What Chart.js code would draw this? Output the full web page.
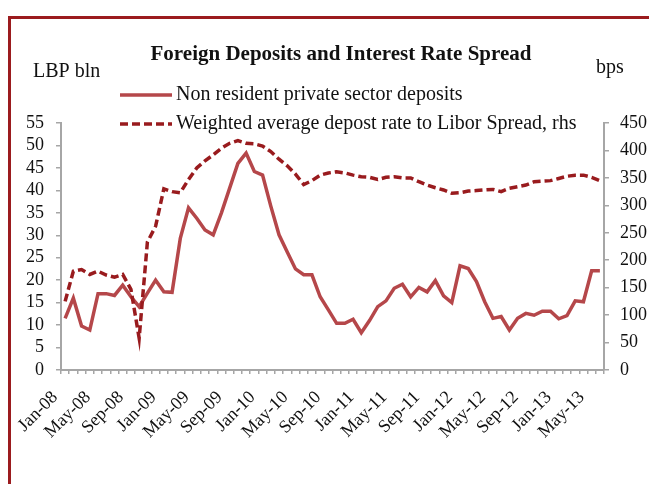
<!DOCTYPE html>
<html>
<head>
<meta charset="utf-8">
<script src="https://cdn.jsdelivr.net/npm/chart.js@4"></script>
<style>
  html, body { margin: 0; padding: 0; background: #fff; }
  canvas { display: block; }
</style>
</head>
<body>
<canvas id="depositsChart" width="649" height="484"></canvas>
<script>
// Monthly observations, Jan-08 to Jun-13
const months = [
    'Jan-08', 'Feb-08', 'Mar-08', 'Apr-08', 'May-08', 'Jun-08', 'Jul-08', 'Aug-08', 'Sep-08', 'Oct-08', 'Nov-08', 'Dec-08',
    'Jan-09', 'Feb-09', 'Mar-09', 'Apr-09', 'May-09', 'Jun-09', 'Jul-09', 'Aug-09', 'Sep-09', 'Oct-09', 'Nov-09', 'Dec-09',
    'Jan-10', 'Feb-10', 'Mar-10', 'Apr-10', 'May-10', 'Jun-10', 'Jul-10', 'Aug-10', 'Sep-10', 'Oct-10', 'Nov-10', 'Dec-10',
    'Jan-11', 'Feb-11', 'Mar-11', 'Apr-11', 'May-11', 'Jun-11', 'Jul-11', 'Aug-11', 'Sep-11', 'Oct-11', 'Nov-11', 'Dec-11',
    'Jan-12', 'Feb-12', 'Mar-12', 'Apr-12', 'May-12', 'Jun-12', 'Jul-12', 'Aug-12', 'Sep-12', 'Oct-12', 'Nov-12', 'Dec-12',
    'Jan-13', 'Feb-13', 'Mar-13', 'Apr-13', 'May-13', 'Jun-13'
];

// Non resident private sector deposits, LBP bln
const deposits = [
    11.5, 16.0, 9.8, 8.9, 17.0, 17.0, 16.6, 18.9, 16.3, 14.1, 17.1, 20.0,
    17.4, 17.3, 29.3, 36.1, 33.8, 31.2, 30.1, 35.0, 40.5, 46.0, 48.3, 44.2,
    43.4, 36.5, 30.1, 26.3, 22.5, 21.2, 21.2, 16.3, 13.4, 10.4, 10.4, 11.3,
    8.3, 11.0, 14.1, 15.4, 18.2, 19.1, 16.3, 18.4, 17.4, 19.9, 16.5, 15.0,
    23.2, 22.6, 19.7, 15.2, 11.5, 11.9, 8.9, 11.5, 12.6, 12.2, 13.1, 13.1,
    11.4, 12.1, 15.4, 15.2, 22.1, 22.1
];

// Weighted average deposit rate to Libor spread, bps
const spread = [
    125, 180, 183, 174, 180, 173, 169, 174, 147, 58, 233, 262,
    330, 325, 323, 347, 368, 381, 392, 404, 413, 418, 413, 412,
    408, 398, 384, 372, 357, 338, 345, 355, 359, 361, 359, 355,
    352, 351, 347, 351, 352, 350, 350, 343, 337, 332, 328, 322,
    323, 326, 327, 328, 329, 325, 331, 334, 337, 343, 344, 345,
    349, 353, 355, 355, 351, 345
];

const leftTicks = { min: 0, max: 55, step: 5 };
const rightTicks = { min: 0, max: 450, step: 50 };

const serif = "'Liberation Serif', 'DejaVu Serif', serif";
const axisGrey = '#a6a6a6';
const frameRed = '#9b1b1e';

// frame, heading, units and the two legend rows
const decorations = {
    id: 'decorations',
    beforeDraw(chart) {
        const ctx = chart.ctx;
        ctx.save();
        ctx.fillStyle = '#fff';
        ctx.fillRect(0, 0, chart.width, chart.height);
        ctx.strokeStyle = frameRed;
        ctx.lineWidth = 3;
        ctx.beginPath();
        ctx.moveTo(9.5, chart.height);
        ctx.lineTo(9.5, 17.5);
        ctx.lineTo(chart.width, 17.5);
        ctx.stroke();
        ctx.restore();
    },
    afterDraw(chart) {
        const ctx = chart.ctx;
        ctx.save();
        ctx.fillStyle = '#111';
        ctx.textBaseline = 'middle';

        ctx.font = 'bold 21px ' + serif;
        ctx.textAlign = 'center';
        ctx.fillText('Foreign Deposits and Interest Rate Spread', 341, 55);

        ctx.font = '20px ' + serif;
        ctx.textAlign = 'left';
        ctx.fillText('LBP bln', 33, 72);
        ctx.fillText('bps', 596, 68);

        const rows = [95, 124];
        chart.data.datasets.forEach(function(ds, i) {
            const y = rows[i];
            ctx.save();
            ctx.strokeStyle = ds.borderColor;
            ctx.lineWidth = ds.borderWidth;
            ctx.setLineDash(ds.borderDash || []);
            ctx.beginPath();
            ctx.moveTo(120, y);
            ctx.lineTo(172, y);
            ctx.stroke();
            ctx.restore();
            ctx.fillText(ds.label, 176, y);
        });
        ctx.restore();
    }
};

const ctx = document.getElementById('depositsChart').getContext('2d');

new Chart(ctx, {
    type: 'line',
    data: {
        labels: months,
        datasets: [
            {
                label: 'Non resident private sector deposits',
                data: deposits,
                yAxisID: 'y',
                borderColor: '#b5474a',
                borderWidth: 3.5,
                pointRadius: 0,
                tension: 0,
                order: 1
            },
            {
                label: 'Weighted average depost rate to Libor Spread, rhs',
                data: spread,
                yAxisID: 'y1',
                borderColor: '#991b1e',
                borderWidth: 3.5,
                borderDash: [8, 4],
                pointRadius: 0,
                tension: 0,
                order: 0
            }
        ]
    },
    options: {
        responsive: false,
        animation: false,
        layout: { padding: { top: 123, left: 0, right: 0, bottom: 0 } },
        plugins: {
            legend: { display: false },
            title: { display: false },
            tooltip: { enabled: false }
        },
        scales: {
            x: {
                offset: true,
                grid: { offset: true, drawOnChartArea: false, drawTicks: true, tickLength: 4, color: axisGrey, lineWidth: 1.5 },
                border: { color: axisGrey, width: 2 },
                ticks: {
                    autoSkip: false,
                    maxRotation: 45,
                    minRotation: 45,
                    padding: 13,
                    labelOffset: -10,
                    color: '#111',
                    font: { family: serif, size: 18 },
                    callback: function(value, index) {
                        return index % 4 === 0 ? months[index] : '';
                    }
                },
                afterFit: function(scale) { scale.height = 114; }
            },
            y: {
                position: 'left',
                min: leftTicks.min,
                max: leftTicks.max,
                grid: { drawOnChartArea: false, drawTicks: true, tickLength: 5, color: axisGrey, lineWidth: 1.5 },
                border: { color: axisGrey, width: 2 },
                ticks: { stepSize: leftTicks.step, autoSkip: false, padding: 12, color: '#111', font: { family: serif, size: 18 } },
                afterFit: function(scale) { scale.width = 61; }
            },
            y1: {
                position: 'right',
                min: rightTicks.min,
                max: rightTicks.max,
                grid: { drawOnChartArea: false, drawTicks: true, tickLength: 5, color: axisGrey, lineWidth: 1.5 },
                border: { color: axisGrey, width: 2 },
                ticks: { stepSize: rightTicks.step, autoSkip: false, padding: 11, color: '#111', font: { family: serif, size: 18 } },
                afterFit: function(scale) { scale.width = 45; }
            }
        }
    },
    plugins: [decorations]
});
</script>
</body>
</html>
